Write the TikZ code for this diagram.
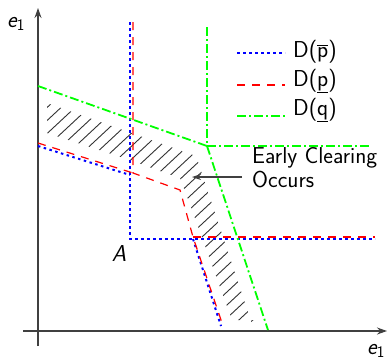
\documentclass[tikz,border=0pt]{standalone}
\usetikzlibrary{arrows.meta}
\tikzset{
  axis/.style={line width=1.2pt, draw=black!75, -{Stealth[length=10pt,width=7pt]}},
  bluel/.style={draw=blue, line width=2pt, dash pattern=on 2.5pt off 3.5pt},
  redl/.style={draw=red, line width=1.2pt, dash pattern=on 8pt off 7pt},
  greenl/.style={draw=green, line width=1.8pt, dash pattern=on 9pt off 3pt on 2pt off 3pt},
  hatchl/.style={draw=black!80, line width=0.9pt},
  lbl/.style={inner sep=0pt, font=\fontsize{23}{24}\selectfont\sffamily},
  mlbl/.style={inner sep=0pt, font=\fontsize{23}{24}\selectfont\sffamily\slshape},
  pointer/.style={draw=black!75, line width=1.1pt, -{Stealth[length=9pt,width=6pt]}}
}
\begin{document}
\begin{tikzpicture}[x=1pt,y=-1pt]
\useasboundingbox (0,0) rectangle (390,360);
% hatch
\begin{scope}
\clip (47,103) -- (196,156) -- (254,330) -- (254,320) -- (232,320) -- (200,232) -- (192,210) -- (180,178) -- (160,171) -- (130,160) -- (47,133) -- cycle;
\foreach \c in {-250,-236,...,260} \draw[hatchl] (\c,345) -- ++(320,-298);
\end{scope}
% axes
\coordinate (yb) at (38,346); \coordinate (yt) at (38,8);
\coordinate (xl) at (23,331); \coordinate (xr) at (387,331);
\draw[axis] (yb) -- (yt);
\draw[axis] (xl) -- (xr);
% blue D(pbar)
\coordinate (b1) at (38,146); \coordinate (b2) at (130,175);
\coordinate (b3) at (130,22); \coordinate (A) at (130,239);
\coordinate (b4) at (375,239); \coordinate (b5) at (193,239); \coordinate (b6) at (221,326);
\draw[bluel] (b1) -- (b2);
\draw[bluel] (b3) -- (A) -- (b4);
\draw[bluel] (b5) -- (b6);
% red D(p)
\coordinate (r1) at (38,143); \coordinate (r2) at (133,173);
\coordinate (r3) at (133,22); \coordinate (r4) at (180,190);
\coordinate (r5) at (193,237); \coordinate (r6) at (222,323); \coordinate (r7) at (375,237);
\draw[redl] (r1) -- (r2);
\draw[redl] (r3) -- (r2) -- (r4) -- (r5) -- (r6);
\draw[redl] (r5) -- (r7);
% green D(q)
\coordinate (g1) at (38,86); \coordinate (g2) at (207,146);
\coordinate (g3) at (207,27); \coordinate (g4) at (370,146); \coordinate (g5) at (268,330);
\draw[greenl] (g1) -- (g2);
\draw[greenl] (g3) -- (g2) -- (g4);
\draw[greenl] (g2) -- (g5);
% legend
\coordinate (lb1) at (237,53); \coordinate (lb2) at (285,53);
\coordinate (lr1) at (237,85); \coordinate (lr2) at (285,85);
\coordinate (lg1) at (237,116); \coordinate (lg2) at (285,116);
\draw[bluel] (lb1) -- (lb2);
\draw[redl] (lr1) -- (lr2);
\draw[greenl] (lg1) -- (lg2);
\node[lbl, anchor=base west] (tb) at (293,57) {D($\overline{\textsf{p}}$)};
\node[lbl, anchor=base west] (tr) at (293,86) {D($\underline{\textsf{p}}$)};
\node[lbl, anchor=base west] (tg) at (293,115) {D($\underline{\textsf{q}}$)};
% labels
\node[mlbl, anchor=base west] (ey) at (7,27) {e\textsubscript{\upshape 1}};
\node[mlbl, anchor=base west] (ex) at (367,354) {e\textsubscript{\upshape 1}};
\node[mlbl, anchor=base] (la) at (119,261) {A};
\node[lbl, anchor=base west, align=left] (ec) at (252,187) {Early Clearing\\Occurs};
\coordinate (as) at (242,177); \coordinate (at) at (192,177);
\draw[pointer] (as) -- (at);
\end{tikzpicture}
\end{document}
